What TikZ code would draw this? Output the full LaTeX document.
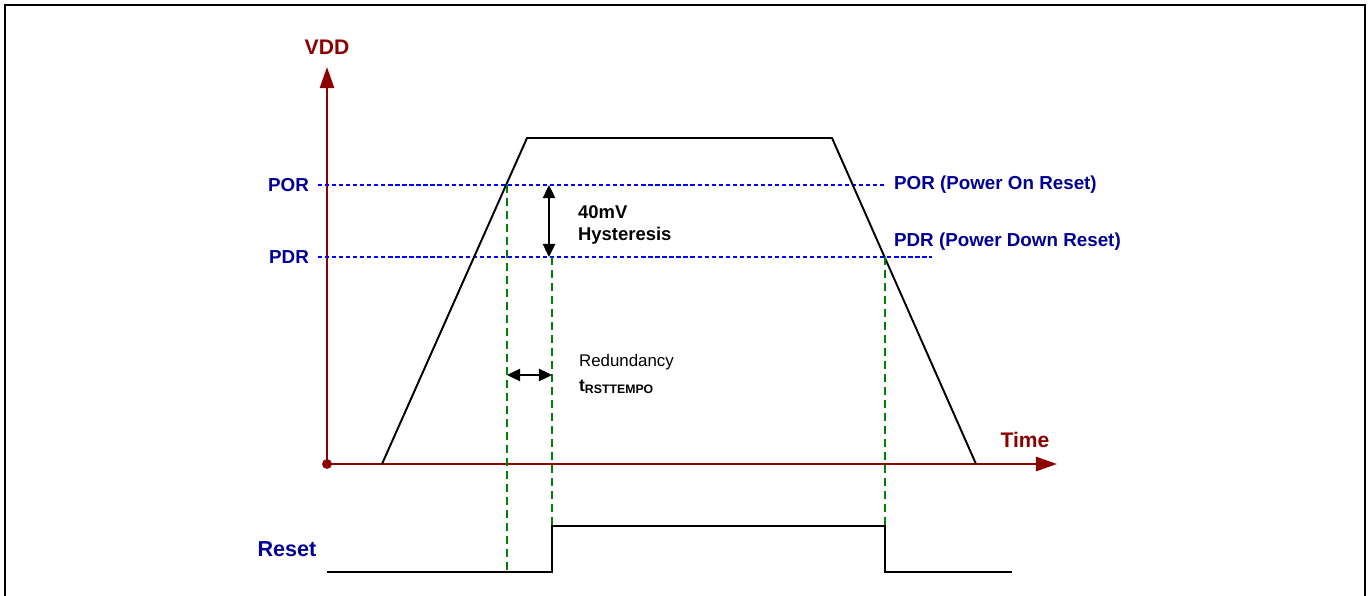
\documentclass[tikz,border=0pt]{standalone}
\usepackage{fontspec}
\setmainfont{Liberation Sans}
\usetikzlibrary{arrows.meta,positioning,calc}
\definecolor{axr}{RGB}{140,0,0}
\definecolor{lvb}{RGB}{0,0,255}
\definecolor{lbl}{RGB}{0,0,150}
\definecolor{grd}{RGB}{0,128,0}
\tikzset{
  axis/.style={line width=1.4pt,color=axr,-{Triangle[length=12pt,width=8pt]}},
  axlbl/.style={font=\fontsize{12}{14}\selectfont\bfseries,text=axr,inner sep=1pt},
  lvl/.style={line width=1.2pt,color=lvb,dash pattern=on 2.4pt off 1.6pt},
  lvlbl/.style={font=\fontsize{10.7}{12}\selectfont\bfseries,text=lbl,inner sep=1pt},
  guide/.style={line width=1.3pt,color=grd,dash pattern=on 4.4pt off 3pt},
  sig/.style={line width=1.2pt,black},
  dim/.style={line width=1.1pt,black,{Triangle[length=7.5pt,width=7pt]}-{Triangle[length=7.5pt,width=7pt]}},
  note/.style={font=\fontsize{10.5}{12.5}\selectfont\bfseries,align=left,inner sep=1pt},
}
\begin{document}
\begin{tikzpicture}[x=0.02cm,y=-0.02cm]

    \useasboundingbox (0,0) rectangle (1372,595);
    \draw[line width=1.2pt] (5,620) |- (1365,5) -- (1365,620);

    % ── Axes ─────────────────────────────────────────────────────────────
    \coordinate (o)  at (327,464);
    \coordinate (yt) at (327,67);
    \coordinate (xt) at (1057,464);
    \draw[axis] (o)--(yt);
    \draw[axis] (o)--(xt);
    \fill[axr] (o) circle (2.8pt);
    \node[axlbl] (vdd)  at (327,47)  {VDD};
    \node[axlbl] (time) at (1025,440) {Time};

    % ── Threshold levels ─────────────────────────────────────────────────
    \coordinate (pors) at (318,185);
    \coordinate (pore) at (886,185);
    \coordinate (pdrs) at (318,257);
    \coordinate (pdre) at (932,257);
    \draw[lvl] (pors)--(pore);
    \draw[lvl] (pdrs)--(pdre);
    \node[lvlbl,anchor=east] (por) at (311,185) {POR};
    \node[lvlbl,anchor=east] (pdr) at (311,257) {PDR};
    \node[lvlbl,anchor=west] (porl) at (892,185) {POR (Power On Reset)};
    \node[lvlbl,anchor=west] (pdrl) at (892,242) {PDR (Power Down Reset)};

    % ── VDD ramp ─────────────────────────────────────────────────────────
    \coordinate (r0) at (382,464);
    \coordinate (r1) at (527,138);
    \coordinate (r2) at (832,138);
    \coordinate (r3) at (976,464);
    \draw[line width=1.1pt] (r0)--(r1)--(r2)--(r3);

    % ── Reset signal ─────────────────────────────────────────────────────
    \coordinate (s0) at (327,572);
    \coordinate (up) at (552,572);
    \coordinate (dn) at (885,572);
    \coordinate (s1) at (1012,572);
    \draw[sig] (s0)--(up)--++(0,-46)-|(dn)--(s1);
    \node[font=\fontsize{12.3}{14}\selectfont\bfseries,text=lbl] (rst) at (287,549) {Reset};

    % ── Markers ──────────────────────────────────────────────────────────
    \coordinate (m1) at (507,185);
    \coordinate (m2) at (552,257);
    \coordinate (m3) at (885,257);
    \draw[guide] (m1)--(m1|-s0);
    \draw[guide] (m2)--++(0,269);
    \draw[guide] (m3)--++(0,269);

    \coordinate (h1) at (549,185);
    \coordinate (h2) at (549,257);
    \draw[dim] (h1)--(h2);
    \node[note,anchor=west] (hys) at (576,225) {40mV\\Hysteresis};

    \coordinate (d1) at (507,375);
    \coordinate (d2) at (552,375);
    \draw[dim] (d1)--(d2);
    \node[font=\fontsize{9.6}{11}\selectfont,anchor=west,inner sep=1pt] (red) at (577,362) {Redundancy};
    \node[font=\fontsize{10}{11}\selectfont\bfseries,anchor=west,inner sep=1pt] (tr) at (577,387)
      {t\textsubscript{RSTTEMPO}};

  \end{tikzpicture}
\end{document}
